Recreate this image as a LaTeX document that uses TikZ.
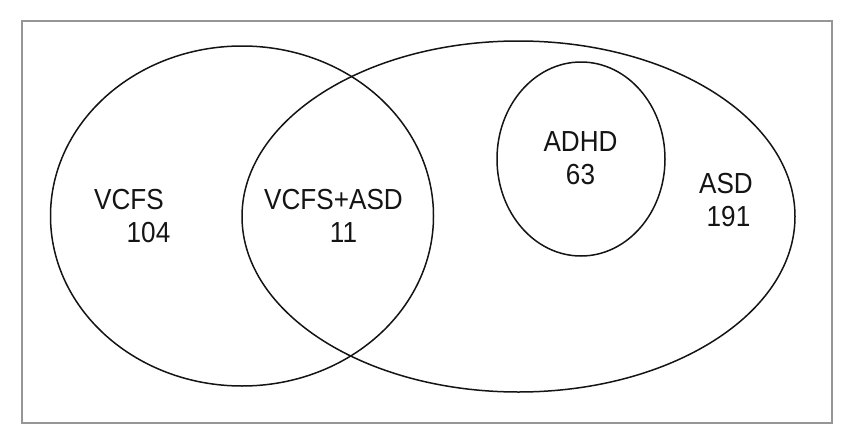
\documentclass[tikz,border=0pt]{standalone}
\usepackage{fontspec}
\setmainfont{Liberation Sans}[FakeStretch=0.9]
\definecolor{framegray}{RGB}{150,150,150}
\definecolor{ink}{RGB}{20,20,20}
\tikzset{
  setline/.style={draw=ink, line width=1.5pt},
  lbl/.style={inner sep=0pt, anchor=center, font=\fontsize{29}{34}\selectfont, text=ink},
}
\begin{document}
\begin{tikzpicture}[x=1pt,y=-1pt]
\useasboundingbox (0,0) rectangle (852,442);
\draw[draw=framegray, line width=2pt] (22,21) rectangle (832,423);
\coordinate (cL) at (242,216);
\coordinate (cR) at (518.5,216.5);
\coordinate (cA) at (581,159);
\draw[setline] (cL) ellipse [x radius=191.5pt, y radius=170pt];
\draw[setline] (cR) ellipse [x radius=276.5pt, y radius=175.5pt];
\draw[setline] (cA) ellipse [x radius=84pt, y radius=97pt];
\node[lbl] (vcfs) at (129,199.8) {VCFS};
\node[lbl] (vcfsn) at (148.5,232.8) {104};
\node[lbl] (both) at (333.5,199.8) {VCFS+ASD};
\node[lbl] (bothn) at (343.5,232.8) {11};
\node[lbl] (adhd) at (580.5,142) {ADHD};
\node[lbl] (adhdn) at (580.5,175) {63};
\node[lbl] (asd) at (726,184) {ASD};
\node[lbl] (asdn) at (728.5,217) {191};
\end{tikzpicture}
\end{document}
